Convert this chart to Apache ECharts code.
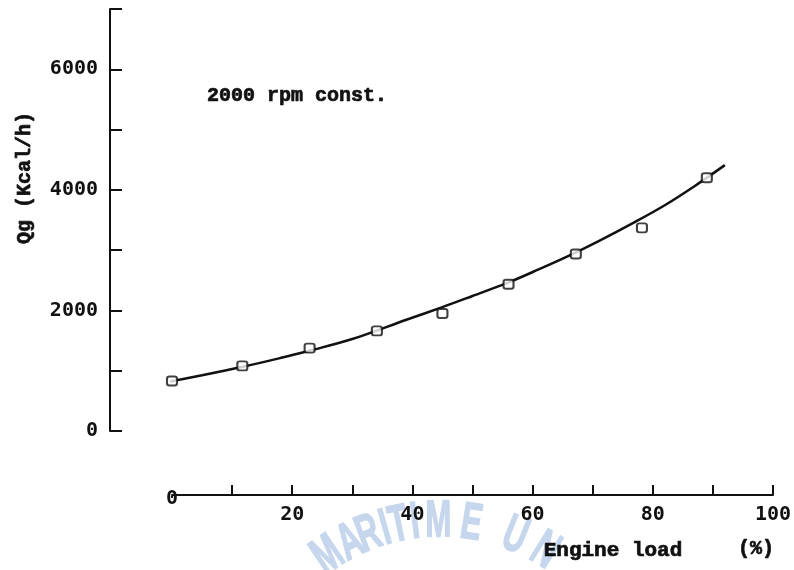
<!DOCTYPE html>
<html>
<head>
<meta charset="utf-8">
<script src="https://cdn.jsdelivr.net/npm/echarts@6/dist/echarts.min.js"></script>
<style>
  html, body { margin: 0; padding: 0; background: #fff; }
  #chart { width: 794px; height: 570px; }
</style>
</head>
<body>
<div id="chart"></div>
<script>
// Fitted curve of Qg against engine load, [load %, Qg kcal/h]
var curveLoad = [-2.5, 5, 12, 18, 23, 30, 39, 45, 50, 56, 61, 66, 71, 77, 82, 87, 92];
var curveQg   = [780, 925, 1070, 1210, 1335, 1525, 1845, 2055, 2240, 2465, 2680, 2905, 3150, 3465, 3745, 4065, 4410];

// Measured points
var measLoad = [0, 11.7, 22.9, 34.1, 45, 56, 67.2, 78.2, 89];
var measQg   = [830, 1080, 1375, 1660, 1950, 2435, 2935, 3370, 4200];

// Axis ticks and labels
var xTicks = [10, 20, 30, 40, 50, 60, 70, 80, 90, 100];
var xLabels = [20, 40, 60, 80, 100];
var yLabels = [0, 2000, 4000, 6000];

var titleText = '2000 rpm const.';
var yName = 'Qg (Kcal/h)';
var xName = 'Engine load';
var xUnit = '(%)';
var stamp = 'MARITIME UN';

var curve = curveLoad.map(function (v, i) { return [v, curveQg[i]]; });
var meas = measLoad.map(function (v, i) { return [v, measQg[i]]; });

function plain(v) { return String(v); }
var numFont = { fontFamily: 'DejaVu Sans Mono', fontWeight: 'bold', fontSize: 20, color: '#111', formatter: plain };
var txtFont = 'bold 20px "Liberation Mono", "DejaVu Sans Mono", monospace';
var txtStyle = { fill: '#111', stroke: '#111', lineWidth: 0.7 };

// faint stamp letters set on an arc below the x axis
var stampEls = [];
(function () {
  var cx = 440, cy = 722, r = 200;
  var angles = [-34, -26.5, -20.8, -15.8, -11.8, -7.2, -0.5, 9, 0, 22, 31.5];
  for (var i = 0; i < stamp.length; i++) {
    if (stamp[i] === ' ') continue;
    var a = angles[i] * Math.PI / 180;
    stampEls.push({
      type: 'text',
      x: cx + r * Math.sin(a),
      y: cy - r * Math.cos(a),
      rotation: -a,
      scaleX: 0.6,
      z: -10,
      silent: true,
      style: {
        text: stamp[i],
        font: 'bold 52px "Liberation Sans", "DejaVu Sans", sans-serif',
        fill: '#c6d6ed',
        stroke: '#c6d6ed',
        lineWidth: 1.5,
        align: 'center',
        verticalAlign: 'middle'
      }
    });
  }
})();

function textEl(x, y, text, font, rot) {
  return {
    type: 'text', x: x, y: y, rotation: rot || 0,
    style: Object.assign({ text: text, font: font, align: 'center', verticalAlign: 'middle' }, txtStyle)
  };
}

var chart = echarts.init(document.getElementById('chart'), null, { renderer: 'canvas' });
chart.setOption({
  backgroundColor: '#fff',
  animation: false,
  grid: { left: 172, right: 17, top: 9, bottom: 139, containLabel: false },
  xAxis: [{
    type: 'value', min: 0, max: 100, interval: 10, offset: 64,
    axisLine: { show: true, onZero: false, lineStyle: { color: '#111', width: 2 } },
    axisTick: { show: true, inside: true, length: 10, lineStyle: { color: '#111', width: 2 }, customValues: xTicks },
    axisLabel: Object.assign({ margin: 10, customValues: xLabels }, numFont),
    splitLine: { show: false }
  }, {
    type: 'value', min: 0, max: 100, offset: 64, position: 'bottom',
    axisLine: { show: false, onZero: false }, axisTick: { show: false }, splitLine: { show: false },
    axisLabel: Object.assign({ margin: 4, verticalAlign: 'middle', customValues: [0] }, numFont)
  }],
  yAxis: {
    type: 'value', min: 0, max: 7000, interval: 1000, offset: 62,
    axisLine: { show: true, onZero: false, lineStyle: { color: '#111', width: 2 } },
    axisTick: { show: true, inside: true, length: 12, lineStyle: { color: '#111', width: 2 } },
    axisLabel: Object.assign({ margin: 12, customValues: yLabels }, numFont),
    splitLine: { show: false }
  },
  series: [{
    type: 'line', data: curve, smooth: 0.35, showSymbol: false, clip: false,
    lineStyle: { color: '#111', width: 2.5 }, z: 2
  }, {
    type: 'scatter', data: meas, symbol: 'roundRect', symbolSize: [10, 9],
    itemStyle: { color: '#fff', borderColor: '#111', borderWidth: 2 }, z: 3
  }],
  graphic: stampEls.concat([
    textEl(297, 96, titleText, txtFont),
    textEl(25, 178, yName, txtFont, Math.PI / 2),
    textEl(613, 551, xName, 'bold 21px "Liberation Mono", "DejaVu Sans Mono", monospace'),
    textEl(756, 549, xUnit, txtFont)
  ])
});
</script>
</body>
</html>
